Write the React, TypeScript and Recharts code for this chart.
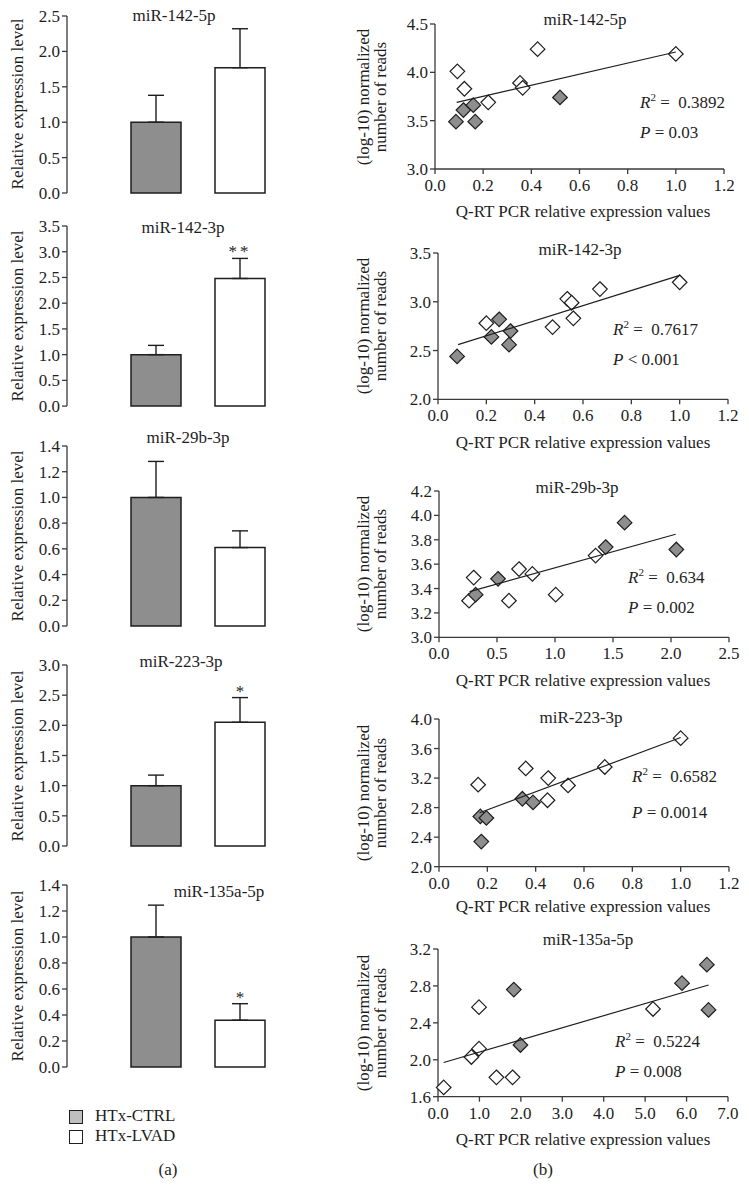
import React from 'react';
import { BarChart, Bar, XAxis, YAxis, ErrorBar, LabelList, ScatterChart, Scatter } from 'recharts';

const FONT = "'Liberation Serif', 'DejaVu Serif', serif";
const INK = '#1e1e1e';
const AXIS = '#3a3a3a';
const GREY = '#8e8e8e';
const LEGEND_GREY = '#c0c0c0';
const FS = 17;

// ---------- (a) bar charts: relative expression level ----------
const genes = ['miR-142-5p', 'miR-142-3p', 'miR-29b-3p', 'miR-223-3p', 'miR-135a-5p'];
const ctrlMean = [1.0, 1.0, 1.0, 1.0, 1.0];
const ctrlUpper = [1.38, 1.18, 1.28, 1.175, 1.245];
const lvadMean = [1.77, 2.48, 0.61, 2.05, 0.36];
const lvadUpper = [2.32, 2.87, 0.74, 2.46, 0.487];
const lvadStars = ['', '**', '', '*', '*'];
const barTicks = [
  [0, 0.5, 1.0, 1.5, 2.0, 2.5],
  [0, 0.5, 1.0, 1.5, 2.0, 2.5, 3.0, 3.5],
  [0, 0.2, 0.4, 0.6, 0.8, 1.0, 1.2, 1.4],
  [0, 0.5, 1.0, 1.5, 2.0, 2.5, 3.0],
  [0, 0.2, 0.4, 0.6, 0.8, 1.0, 1.2, 1.4],
];

// ---------- (b) scatter plots: [Q-RT PCR value, log10 normalized reads] ----------
const s1White = [[0.093, 4.01], [0.122, 3.83], [0.221, 3.69], [0.353, 3.89], [0.364, 3.84], [0.426, 4.24], [1.0, 4.19]];
const s1Grey = [[0.087, 3.49], [0.118, 3.61], [0.159, 3.66], [0.167, 3.49], [0.519, 3.74]];
const s1Trend = [[0.09, 3.69], [1.0, 4.21]];

const s2White = [[0.2, 2.78], [0.474, 2.74], [0.535, 3.03], [0.553, 2.99], [0.56, 2.83], [0.67, 3.13], [1.0, 3.2]];
const s2Grey = [[0.079, 2.44], [0.221, 2.64], [0.253, 2.82], [0.3, 2.7], [0.294, 2.56]];
const s2Trend = [[0.083, 2.56], [1.0, 3.27]];

const s3White = [[0.259, 3.3], [0.299, 3.49], [0.603, 3.3], [0.69, 3.56], [0.805, 3.52], [1.006, 3.35], [1.35, 3.67]];
const s3Grey = [[0.316, 3.35], [0.509, 3.48], [1.437, 3.74], [1.6, 3.94], [2.046, 3.72]];
const s3Trend = [[0.264, 3.375], [2.04, 3.845]];

const s4White = [[0.162, 3.11], [0.359, 3.33], [0.452, 3.2], [0.449, 2.9], [0.534, 3.1], [0.686, 3.35], [1.0, 3.74]];
const s4Grey = [[0.171, 2.68], [0.196, 2.66], [0.175, 2.34], [0.345, 2.92], [0.389, 2.87]];
const s4Trend = [[0.168, 2.73], [1.0, 3.75]];

const s5White = [[0.137, 1.7], [0.806, 2.03], [0.99, 2.12], [0.99, 2.57], [1.41, 1.81], [1.8, 1.81], [5.19, 2.55]];
const s5Grey = [[1.83, 2.76], [1.99, 2.16], [5.89, 2.83], [6.49, 3.03], [6.53, 2.54]];
const s5Trend = [[0.137, 1.97], [6.53, 2.81]];

const scatterWhite = [s1White, s2White, s3White, s4White, s5White];
const scatterGrey = [s1Grey, s2Grey, s3Grey, s4Grey, s5Grey];
const scatterTrend = [s1Trend, s2Trend, s3Trend, s4Trend, s5Trend];
const scatterXTicks = [
  [0, 0.2, 0.4, 0.6, 0.8, 1.0, 1.2],
  [0, 0.2, 0.4, 0.6, 0.8, 1.0, 1.2],
  [0, 0.5, 1.0, 1.5, 2.0, 2.5],
  [0, 0.2, 0.4, 0.6, 0.8, 1.0, 1.2],
  [0, 1, 2, 3, 4, 5, 6, 7],
];
const scatterYTicks = [
  [3.0, 3.5, 4.0, 4.5],
  [2.0, 2.5, 3.0, 3.5],
  [3.0, 3.2, 3.4, 3.6, 3.8, 4.0, 4.2],
  [2.0, 2.4, 2.8, 3.2, 3.6, 4.0],
  [1.6, 2.0, 2.4, 2.8, 3.2],
];
const r2Values = ['0.3892', '0.7617', '0.634', '0.6582', '0.5224'];
const pValues = ['= 0.03', '< 0.001', '= 0.002', '= 0.0014', '= 0.008'];

// ---------- layout (pixel placement only) ----------
const barLayout = [
  { top: 15.7, zero: 192.7, titleX: 174, titleY: 16 },
  { top: 225.6, zero: 405.7, titleX: 183, titleY: 228 },
  { top: 445.7, zero: 625.7, titleX: 188, titleY: 438 },
  { top: 665, zero: 846, titleX: 181, titleY: 662 },
  { top: 884.7, zero: 1066.7, titleX: 219, titleY: 892 },
];
const scatterLayout = [
  { top: 24.3, bottom: 169.3, axisX: 435, rightX: 724, titleX: 585, titleY: 20, statX: 640, r2Y: 103, pY: 133, xlabY: 212 },
  { top: 252.7, bottom: 399, axisX: 438, rightX: 728, titleX: 580, titleY: 250, statX: 613, r2Y: 330, pY: 360, xlabY: 443 },
  { top: 491, bottom: 637.3, axisX: 439, rightX: 729, titleX: 577, titleY: 488, statX: 628, r2Y: 578, pY: 608, xlabY: 681 },
  { top: 719, bottom: 866.7, axisX: 439, rightX: 729, titleX: 581, titleY: 718, statX: 632, r2Y: 777, pY: 813, xlabY: 907 },
  { top: 949, bottom: 1096.7, axisX: 438, rightX: 728, titleX: 588, titleY: 940, statX: 615, r2Y: 1042, pY: 1072, xlabY: 1140 },
];

const tickStyle = { fontSize: FS, fill: INK, fontFamily: FONT };

function Txt({ x, y, children, anchor = 'middle', rotate = 0, size = FS, style = {} }: any) {
  const tx = anchor === 'middle' ? '-50%' : anchor === 'end' ? '-100%' : '0';
  return (
    <div
      style={{
        position: 'absolute',
        left: x,
        top: y,
        transform: `translate(${tx}, -50%)${rotate ? ` rotate(${rotate}deg)` : ''}`,
        whiteSpace: 'pre',
        fontSize: size,
        fontFamily: FONT,
        color: INK,
        lineHeight: 1.15,
        textAlign: 'center',
        ...style,
      }}
    >
      {children}
    </div>
  );
}

function BarPanel({ i }: { i: number }) {
  const L = barLayout[i];
  const mt = 10;
  const mb = 10;
  const h = L.zero - L.top + mt + mb;
  const ticks = barTicks[i];
  const max = ticks[ticks.length - 1];
  const data = [
    {
      name: genes[i],
      ctrl: ctrlMean[i],
      lvad: lvadMean[i],
      ctrlErr: [0, ctrlUpper[i] - ctrlMean[i]],
      lvadErr: [0, lvadUpper[i] - lvadMean[i]],
    },
  ];
  const star = lvadStars[i];
  const renderStar = (props: any) => {
    if (!star) return null;
    const vb = props.viewBox || props;
    const x = vb.x ?? props.x;
    const y = vb.y ?? props.y;
    const w = vb.width ?? props.width;
    const bh = Math.abs(vb.height ?? props.height);
    const pxPerUnit = bh / lvadMean[i];
    const errTop = y - (lvadUpper[i] - lvadMean[i]) * pxPerUnit;
    return (
      <text x={x + w / 2} y={errTop - 1} textAnchor="middle" fontSize={FS} fontFamily={FONT} fill={INK} letterSpacing={star.length > 1 ? 3 : 0}>
        {star}
      </text>
    );
  };
  return (
    <div style={{ position: 'absolute', left: 0, top: L.top - mt, width: 340, height: h }}>
      <BarChart width={340} height={h} data={data} margin={{ top: mt, right: 11, bottom: mb, left: 0 }} barSize={50} barGap={34}>
        <XAxis dataKey="name" tick={false} tickLine={false} height={0} axisLine={{ stroke: AXIS, strokeWidth: 1.3 }} />
        <YAxis
          width={67}
          type="number"
          domain={[0, max]}
          ticks={ticks}
          interval={0}
          tickFormatter={(v: number) => v.toFixed(1)}
          tick={tickStyle}
          tickSize={5}
          axisLine={{ stroke: AXIS, strokeWidth: 1.3 }}
          tickLine={{ stroke: AXIS, strokeWidth: 1.3 }}
        />
        <Bar dataKey="ctrl" fill={GREY} stroke={INK} strokeWidth={1.5} isAnimationActive={false}>
          <ErrorBar dataKey="ctrlErr" width={8} stroke={INK} strokeWidth={1.4} direction="y" />
        </Bar>
        <Bar dataKey="lvad" fill="#ffffff" stroke={INK} strokeWidth={1.5} isAnimationActive={false}>
          <ErrorBar dataKey="lvadErr" width={8} stroke={INK} strokeWidth={1.4} direction="y" />
          <LabelList dataKey="lvad" content={renderStar} />
        </Bar>
      </BarChart>
    </div>
  );
}

const makeDiamond = (fill: string) => (props: any) => {
  const { cx, cy } = props;
  if (cx == null || cy == null) return <g />;
  const r = 7.3;
  return (
    <polygon
      points={`${cx},${cy - r} ${cx + r},${cy} ${cx},${cy + r} ${cx - r},${cy}`}
      fill={fill}
      stroke={INK}
      strokeWidth={1.2}
    />
  );
};
const whiteDiamond = makeDiamond('#ffffff');
const greyDiamond = makeDiamond(GREY);
const noShape = () => <g />;

const toPts = (arr: number[][]) => arr.map(([x, y]) => ({ x, y }));

function ScatterPanel({ i }: { i: number }) {
  const L = scatterLayout[i];
  const mt = 10;
  const xh = 32;
  const h = L.bottom - L.top + mt + xh;
  const xt = scatterXTicks[i];
  const yt = scatterYTicks[i];
  const left = 370;
  const w = 379;
  return (
    <div style={{ position: 'absolute', left, top: L.top - mt, width: w, height: h }}>
      <ScatterChart width={w} height={h} margin={{ top: mt, right: 749 - L.rightX, bottom: 0, left: 0 }}>
        <XAxis
          type="number"
          dataKey="x"
          domain={[xt[0], xt[xt.length - 1]]}
          ticks={xt}
          interval={0}
          height={xh}
          tickFormatter={(v: number) => v.toFixed(1)}
          tick={tickStyle}
          tickSize={5}
          tickMargin={5}
          axisLine={{ stroke: AXIS, strokeWidth: 1.3 }}
          tickLine={{ stroke: AXIS, strokeWidth: 1.3 }}
        />
        <YAxis
          type="number"
          dataKey="y"
          width={L.axisX - left}
          domain={[yt[0], yt[yt.length - 1]]}
          ticks={yt}
          interval={0}
          tickFormatter={(v: number) => v.toFixed(1)}
          tick={tickStyle}
          tickSize={5}
          axisLine={{ stroke: AXIS, strokeWidth: 1.3 }}
          tickLine={{ stroke: AXIS, strokeWidth: 1.3 }}
        />
        <Scatter data={toPts(scatterWhite[i])} shape={whiteDiamond} isAnimationActive={false} />
        <Scatter data={toPts(scatterGrey[i])} shape={greyDiamond} isAnimationActive={false} />
        <Scatter
          data={toPts(scatterTrend[i])}
          shape={noShape}
          line={{ stroke: INK, strokeWidth: 1.2 }}
          isAnimationActive={false}
        />
      </ScatterChart>
    </div>
  );
}

export default function App() {
  return (
    <div style={{ position: 'absolute', left: 0, top: 0, width: 749, height: 1188, background: '#ffffff', fontFamily: FONT, overflow: 'hidden' }}>
      {barLayout.map((L, i) => (
        <React.Fragment key={`b${i}`}>
          <BarPanel i={i} />
          <Txt x={L.titleX} y={L.titleY}>{genes[i]}</Txt>
          <Txt x={18} y={(L.top + L.zero) / 2} rotate={-90}>Relative expression level</Txt>
        </React.Fragment>
      ))}
      {scatterLayout.map((L, i) => (
        <React.Fragment key={`s${i}`}>
          <ScatterPanel i={i} />
          <Txt x={L.titleX} y={L.titleY}>{genes[i]}</Txt>
          <Txt x={372} y={(L.top + L.bottom) / 2} rotate={-90} style={{ lineHeight: '17px' }}>
            {'(log-10) normalized\nnumber of reads'}
          </Txt>
          <Txt x={L.statX} y={L.r2Y} anchor="start">
            <i>R</i>
            <span style={{ fontSize: 11, position: 'relative', top: -7 }}>2</span>
            {' =  ' + r2Values[i]}
          </Txt>
          <Txt x={L.statX} y={L.pY} anchor="start">
            <i>P</i>
            {' ' + pValues[i]}
          </Txt>
          <Txt x={583} y={L.xlabY}>Q-RT PCR relative expression values</Txt>
        </React.Fragment>
      ))}
      <div style={{ position: 'absolute', left: 69, top: 1109.5, width: 12, height: 12, background: LEGEND_GREY, border: `1px solid ${INK}` }} />
      <Txt x={95} y={1116} anchor="start">HTx-CTRL</Txt>
      <div style={{ position: 'absolute', left: 69, top: 1129.5, width: 12, height: 12, background: '#ffffff', border: `1px solid ${INK}` }} />
      <Txt x={95} y={1136} anchor="start">HTx-LVAD</Txt>
      <Txt x={168} y={1170}>(a)</Txt>
      <Txt x={543} y={1170}>(b)</Txt>
    </div>
  );
}
